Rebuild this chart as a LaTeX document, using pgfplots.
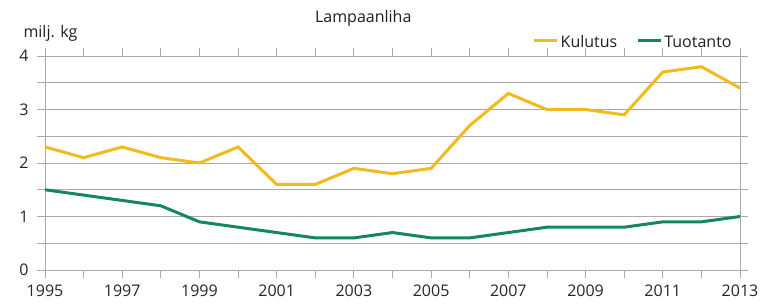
\documentclass[border=0pt]{standalone}
\usepackage{pgfplots}
\pgfplotsset{compat=1.18}
\usepackage{fontspec}
\setmainfont{Open Sans}
\definecolor{kyellow}{RGB}{241,186,30}
\definecolor{tgreen}{RGB}{22,135,92}
\definecolor{gridgray}{RGB}{170,170,170}
\begin{document}
\fontsize{16}{19}\selectfont
\begin{tikzpicture}
\useasboundingbox (-45pt,-34pt) rectangle (725pt,270pt);
\begin{axis}[
  at={(0,0)}, anchor=south west,
  scale only axis, width=695pt, height=214pt,
  xmin=1995, xmax=2013, ymin=0, ymax=4,
  xtick={1995,1996,...,2013},
  xticklabels={1995,,1997,,1999,,2001,,2003,,2005,,2007,,2009,,2011,,2013},
  ytick={0,0.5,...,4},
  yticklabels={0,,1,,2,,3,,4},
  tick align=outside,
  major tick length=8pt,
  tick style={gridgray, line width=0.8pt},
  axis line style={gridgray, line width=0.8pt},
  ymajorgrids=true,
  grid style={gridgray, line width=0.8pt},
  /pgf/number format/assume math mode=true,
  ticklabel style={font=\fontsize{16}{19}\selectfont, text=black!85},
  yticklabel style={xshift=-3pt},
  xticklabel style={yshift=-1pt},
  legend columns=2,
  legend style={at={(rel axis cs:0.991,1)}, anchor=south east, yshift=4pt,
    draw=none, fill=none, inner sep=0pt, font=\fontsize{16}{19}\selectfont,
    text=black!88,
    /tikz/every odd column/.append style={column sep=0pt},
    /tikz/every even column/.append style={column sep=17pt}},
  legend image code/.code={\draw[#1, line width=3pt] (0pt,2pt) -- (23pt,2pt);},
  clip=false,
]
\addplot[kyellow, line width=3pt] coordinates {
(1995,2.3) (1996,2.1) (1997,2.3) (1998,2.1) (1999,2.0) (2000,2.3) (2001,1.6)
(2002,1.6) (2003,1.9) (2004,1.8) (2005,1.9) (2006,2.7) (2007,3.3) (2008,3.0)
(2009,3.0) (2010,2.9) (2011,3.7) (2012,3.8) (2013,3.4)};
\addlegendentry{Kulutus}
\addplot[tgreen, line width=3pt] coordinates {
(1995,1.5) (1996,1.4) (1997,1.3) (1998,1.2) (1999,0.9) (2000,0.8) (2001,0.7)
(2002,0.6) (2003,0.6) (2004,0.7) (2005,0.6) (2006,0.6) (2007,0.7) (2008,0.8)
(2009,0.8) (2010,0.8) (2011,0.9) (2012,0.9) (2013,1.0)};
\addlegendentry{Tuotanto}
\node[anchor=base west, text=black!88] at ([xshift=-27pt,yshift=18pt]rel axis cs:0,1) {milj. kg};
\node[anchor=center, text=black!88] at ([yshift=38pt]rel axis cs:0.458,1) {Lampaanliha};
\end{axis}
\end{tikzpicture}
\end{document}
